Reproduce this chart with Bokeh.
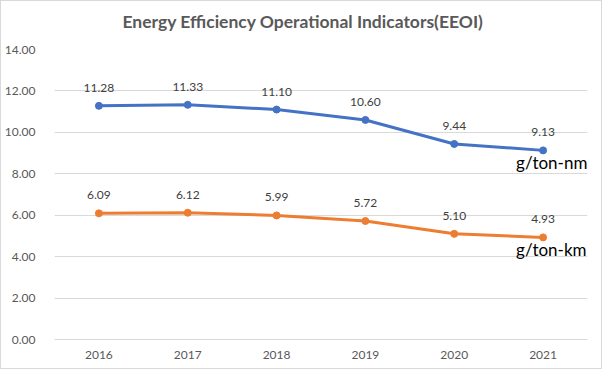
from bokeh.plotting import figure
from bokeh.models import FactorRange, Range1d, FixedTicker, NumeralTickFormatter, ColumnDataSource, InlineStyleSheet, Title
from bokeh.core.properties import value
from bokeh.embed import file_html
from bokeh.resources import INLINE

years = ["2016", "2017", "2018", "2019", "2020", "2021"]
nm_values = [11.28, 11.33, 11.10, 10.60, 9.44, 9.13]
km_values = [6.09, 6.12, 5.99, 5.72, 5.10, 4.93]
nm_labels = ["11.28", "11.33", "11.10", "10.60", "9.44", "9.13"]
km_labels = ["6.09", "6.12", "5.99", "5.72", "5.10", "4.93"]
y_ticks = [0, 2, 4, 6, 8, 10, 12, 14]
title_text = "Energy Efficiency Operational Indicators(EEOI)"
unit_nm = "g/ton-nm"
unit_km = "g/ton-km"

FONT = "Lato"
BLUE = "#4472c4"
ORANGE = "#ed7d31"

p = figure(width=602, height=369, x_range=FactorRange(*years), y_range=Range1d(0, 14),
           output_backend="svg", toolbar_location=None,
           min_border_left=49, min_border_right=16, min_border_top=48, min_border_bottom=31)

p.stylesheets = [InlineStyleSheet(css=":host { border: 1px solid #d9d9d9; }")]

# spacer between the title and the plot area
spacer = Title(text=" ", text_font_size="10px", standoff=4, text_color="#ffffff")
p.add_layout(spacer, "above")

p.title.text = title_text
p.title.align = "left"
p.title.offset = 68
p.title.text_font = FONT
p.title.text_font_size = "17.5px"
p.title.text_font_style = "bold"
p.title.text_color = "#595959"
p.title.standoff = 2

p.outline_line_color = None

p.xgrid.grid_line_color = None
p.ygrid.grid_line_color = "#d9d9d9"
p.ygrid.grid_line_width = 1

p.yaxis.ticker = FixedTicker(ticks=y_ticks)
p.yaxis.formatter = NumeralTickFormatter(format="0.00")
for ax in (p.xaxis[0], p.yaxis[0]):
    ax.axis_line_color = None
    ax.major_tick_line_color = None
    ax.minor_tick_line_color = None
    ax.major_label_text_font = FONT
    ax.major_label_text_font_size = "12px"
    ax.major_label_text_color = "#595959"
p.xaxis.axis_line_color = "#d9d9d9"
p.xaxis.major_label_standoff = 5
p.yaxis.major_label_standoff = 13

src = ColumnDataSource(dict(x=years, nm=nm_values, km=km_values, nml=nm_labels, kml=km_labels))

p.line("x", "nm", source=src, line_color=BLUE, line_width=3)
p.scatter("x", "nm", source=src, size=7, fill_color=BLUE, line_color=BLUE)
p.line("x", "km", source=src, line_color=ORANGE, line_width=3)
p.scatter("x", "km", source=src, size=7, fill_color=ORANGE, line_color=ORANGE)

p.text("x", "nm", text="nml", source=src, y_offset=-18, text_align="center", text_baseline="middle",
       text_font=value(FONT), text_font_size="12px", text_color="#404040")
p.text("x", "km", text="kml", source=src, y_offset=-18, text_align="center", text_baseline="middle",
       text_font=value(FONT), text_font_size="12px", text_color="#404040")

p.text(x=[years[-1]], y=[nm_values[-1]], text=[unit_nm], x_offset=-27, y_offset=12,
       text_align="left", text_baseline="middle", text_font=value(FONT),
       text_font_size="17px", text_color="#000000")
p.text(x=[years[-1]], y=[km_values[-1]], text=[unit_km], x_offset=-27, y_offset=12,
       text_align="left", text_baseline="middle", text_font=value(FONT),
       text_font_size="17px", text_color="#000000")

open("out.html", "w").write(file_html(p, INLINE))
